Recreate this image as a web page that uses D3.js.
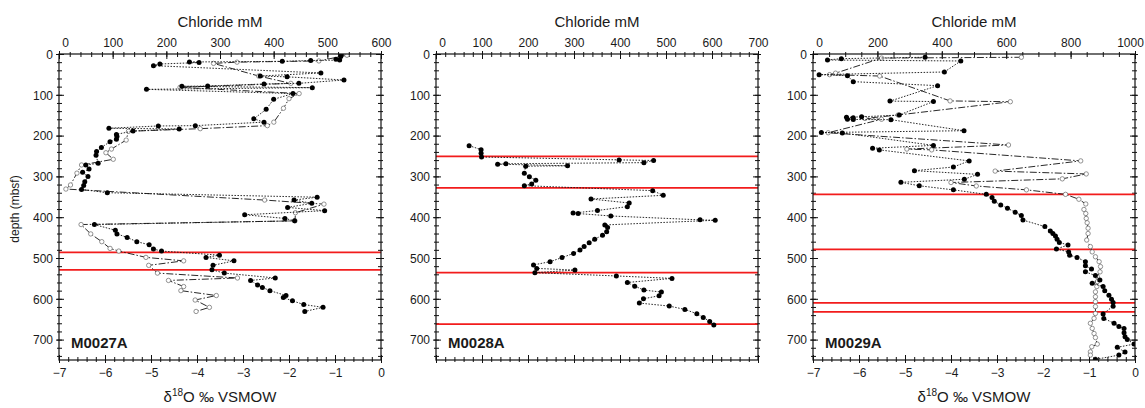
<!DOCTYPE html>
<html><head><meta charset="utf-8">
<script src="https://cdn.jsdelivr.net/npm/d3@7"></script>
<style>body{margin:0;background:#fff} text{font-family:"Liberation Sans",Arial,sans-serif;fill:#1a1a1a}</style>
</head><body><svg id="c" width="1145" height="408"></svg>
<script>
// ---------- data ----------
const depthTicks = [0,100,200,300,400,500,600,700];
const o18Ticks = [-7,-6,-5,-4,-3,-2,-1,0];
const clTicks27 = [0,100,200,300,400,500,600];
const clTicks28 = [0,100,200,300,400,500,600,700];
const clTicks29 = [0,200,400,600,800,1000];
const panelNames = ["M0027A","M0028A","M0029A"];

// M0027A chloride [depth mbsf, Cl mM]
const m27Cl = [[2,526],[6,525],[13,516],[15,523],[16,469],[18,416],[19.6,243],[21,261],[24.5,188],[28.5,176],
 [46.5,488],[54,375],[56,425],[63.7,531],[71.9,447],[73.5,382],[78.4,277],[79.2,229],[82.5,472],[86.6,163],
 [97,436],[111,400],[135.6,386],[159,363],[167,382],[175.6,254],[176.4,185],[182,93],[183.8,224],[188.7,138],
 [197,107],[202,108],[209,107],[215,95],[229,79],[239,70],[248,69],[268,73],[272,50],[282,56],[290,44],[300,54],
 [313,48],[322,46],[332,42],[340,90],[351,481],[358,438],[366,471],[376,426],[384,495],[394,346],[403,421],[409,439],
 [418,66],[432,105],[441,108],[449.5,127],[460,145],[467.5,168],[478,176],[483,191],[493,299],[498.5,274],[507,326],
 [518,287],[529,285],[537,308],[549,403],[555,357],[566,370],[572,379],[580,393],[592,423],[597,418],[605,435],
 [614,456],[621,492],[631,458]];
// M0027A d18O [depth, permil]
const m27O = [[3,-0.74],[17,-1.35],[20,-3.13],[23,-3.64],[54,-2.66],[72,-1.96],[81.7,-4.37],[97,-1.78],[109.5,-2.0],
 [133,-2.12],[167,-2.33],[175.6,-2.47],[183,-3.93],[189.5,-5.49],[211,-5.54],[233,-5.86],[242,-5.98],[258,-5.82],
 [272,-6.51],[292,-6.61],[321,-6.75],[331,-6.85],[358,-2.53],[368,-1.24],[389,-1.86],[409,-1.87],[418,-6.52],
 [441,-6.31],[460,-6.07],[476.5,-5.89],[483,-5.70],[498.5,-5.11],[507,-4.29],[518,-5.05],[537,-4.86],[549,-3.12],
 [555,-4.62],[570,-4.29],[580,-4.35],[592,-3.58],[603,-4.04],[621,-3.73],[631,-4.02]];
// M0028A chloride
const m28Cl = [[224.6,72],[234.4,98],[243.4,98],[252.4,99],[259.5,398],[261,473],[266.3,452],[269,152],[270,134],
 [274,286],[275,195],[292.4,192],[300.6,203],[309.6,217],[318.6,208],[322.7,192],[334.9,471],[346.4,494],[355.4,337],
 [365.2,420],[374.1,416],[383.5,351],[390,298],[391,309],[397,380],[406.5,574],[407.5,607],[419,367],[425,373],
 [435.6,371],[444,362],[454,345],[462.6,333],[472,322],[480.6,313],[488.7,299],[499,274],[509,248],[517,212],
 [525.5,219],[529.6,302],[536,215],[544,392],[550,513],[560,416],[569,432],[578.6,452],[583.5,490],[592.5,485],
 [600,451],[610.5,442],[617.8,507],[626,541],[636.6,567],[645.6,581],[655.4,595],[664.4,604]];
// M0029A chloride
const m29Cl = [[8,348],[11.4,88],[14.7,45],[17.1,459],[44.1,408],[50.6,19],[53.1,107],[67.8,125],[77.6,387],
 [115.5,239],[116.5,374],[149.5,268],[154,151],[155,104],[156,125],[160,107],[160.5,125],[161,242],[188,469],
 [192.5,26],[193.5,91],[224,374],[231,185],[235,206],[262,485],[277,436],[286,315],[295,511],[307,470],[314.5,273],
 [323,330],[333,436],[344,538],[352,556],[361,563],[370,583],[378,604],[388,628],[396,647],[407,652],[423,720],
 [434,737],[440,745],[446,753],[454,758],[462,765],[468,792],[478,756],[485,794],[493,797],[498.5,820],[509,846],
 [519,846],[527,865],[534,846],[543,877],[554,891],[562,867],[570,901],[580,906],[591,919],[601,927],[609,932],
 [618,932],[637,901],[648,903],[660,935],[668,950],[672.5,966],[683,966],[693,969],[699.5,976],[711,997],[719,945],
 [730.5,969],[738,950],[748.5,877]];
// M0029A d18O
const m29O = [[8,-2.47],[10,-5.51],[47,-6.51],[50.6,-6.64],[54,-5.55],[115,-4.02],[117,-2.71],[149.5,-5.15],
 [158,-5.87],[160,-5.51],[193,-6.67],[223,-2.75],[233,-4.96],[235,-4.42],[262,-1.18],[287,-3.04],[294,-1.06],
 [306,-1.58],[315,-4.0],[323.5,-3.45],[333,-2.36],[344,-1.51],[356,-1.22],[367.6,-1.07],[381,-1.11],[391,-1.07],
 [403,-1.06],[413.6,-1.04],[427,-1.02],[440,-1.02],[456,-1.05],[472,-0.97],[485,-0.93],[497,-0.86],[509,-0.78],
 [521,-0.75],[534,-0.76],[546,-0.82],[558,-0.82],[570,-0.83],[583,-0.86],[595,-0.86],[607,-0.86],[619,-0.86],
 [636,-0.86],[648,-0.89],[660,-0.97],[672.5,-0.93],[685,-0.89],[695,-0.86],[711,-0.82],[717.5,-0.94],[730,-0.97],
 [738,-0.97],[748,-0.86]];
// depths of red lines
const red27 = [486,529];
const red28 = [251,328,536,662];
const red29 = [344,479,610,632];

// ---------- layout ----------
const svg = d3.select("#c");
const topY = 54, botY = 360, W = 322;
const y = d3.scaleLinear().domain([0,750]).range([topY,botY]);

const panels = [
 {left:59, clMax:600, clTicks:clTicks27, clMinor:20, cl:m27Cl, o:m27O, red:red27, name:panelNames[0], o18:true},
 {left:436, clMax:700, clTicks:clTicks28, clMinor:20, cl:m28Cl, o:null, red:red28, name:panelNames[1], o18:false},
 {left:813, clMax:1000, clTicks:clTicks29, clMinor:50, cl:m29Cl, o:m29O, red:red29, name:panelNames[2], o18:true}
];

function range(a,b,s){const r=[];for(let v=a;v<=b+1e-9;v+=s)r.push(+v.toFixed(6));return r;}

function ticks(g, mk, vals, minorVals, orient, showLabels){
  const mg = g.append("g").call(mk().tickValues(minorVals).tickFormat(""));
  mg.select(".domain").remove();
  const ma = g.append("g").call(mk().tickValues(vals).tickFormat(showLabels? d3.format("d") : ""));
  ma.select(".domain").remove();
  const setLen = (sel, inn, out) => {
    if (orient==="top") sel.attr("y1",inn).attr("y2",-out);
    if (orient==="bottom") sel.attr("y1",-inn).attr("y2",out);
    if (orient==="left") sel.attr("x1",inn).attr("x2",-out);
    if (orient==="right") sel.attr("x1",-inn).attr("x2",out);
  };
  mg.selectAll(".tick line").call(setLen,3,2).attr("stroke","#111");
  ma.selectAll(".tick line").call(setLen,5,3).attr("stroke","#111");
  const t = ma.selectAll(".tick text").attr("font-size",12).attr("fill","#1a1a1a")
     .attr("font-family",'"Liberation Sans",Arial,sans-serif');
  if (orient==="top") {
    t.attr("y",-7).attr("dy",0);
    // first label sits a little right of its tick, a 4-digit last label a little left
    t.filter(d=>d===0).attr("x",6);
    t.filter(d=>d>=1000).attr("x",-5);
  }
  if (orient==="bottom") t.attr("y",17).attr("dy",0);
  if (orient==="left") t.attr("x",-6).attr("dy","0.35em");
}

panels.forEach(p=>{
  const xCl = d3.scaleLinear().domain([0,p.clMax]).range([p.left,p.left+W]);
  const xO = d3.scaleLinear().domain([-7,0]).range([p.left,p.left+W]);
  const g = svg.append("g");
  const cx = p.left + W/2;

  ticks(g.append("g").attr("transform",`translate(0,${topY})`), ()=>d3.axisTop(xCl), p.clTicks, range(0,p.clMax,p.clMinor), "top", true);
  if (p.o18) ticks(g.append("g").attr("transform",`translate(0,${botY})`), ()=>d3.axisBottom(xO), o18Ticks, range(-7,0,0.2), "bottom", true);
  else ticks(g.append("g").attr("transform",`translate(0,${botY})`), ()=>d3.axisBottom(xCl), p.clTicks, range(0,p.clMax,p.clMinor), "bottom", false);
  ticks(g.append("g").attr("transform",`translate(${p.left},0)`), ()=>d3.axisLeft(y), depthTicks, range(0,740,20), "left", true);
  ticks(g.append("g").attr("transform",`translate(${p.left+W},0)`), ()=>d3.axisRight(y), depthTicks, range(0,740,20), "right", false);

  const cid = "clip"+p.left;
  svg.append("clipPath").attr("id",cid).append("rect").attr("x",p.left).attr("y",topY).attr("width",W).attr("height",botY-topY);
  const plot = g.append("g").attr("clip-path",`url(#${cid})`);

  plot.selectAll("line.red").data(p.red).join("line").attr("class","red")
    .attr("x1",p.left).attr("x2",p.left+W).attr("y1",d=>y(d)).attr("y2",d=>y(d))
    .attr("stroke","#f21c1c").attr("stroke-width",1.8);

  if (p.o) {
    const lo = d3.line().x(d=>xO(d[1])).y(d=>y(d[0]));
    plot.append("path").datum(p.o).attr("d",lo).attr("fill","none").attr("stroke","#111")
      .attr("stroke-width",0.9).attr("stroke-dasharray","7,2,1.5,2");
    plot.selectAll("circle.o").data(p.o).join("circle").attr("class","o")
      .attr("cx",d=>xO(d[1])).attr("cy",d=>y(d[0])).attr("r",2.2)
      .attr("fill","#fff").attr("stroke","#666").attr("stroke-width",0.7);
  }
  const lc = d3.line().x(d=>xCl(d[1])).y(d=>y(d[0]));
  plot.append("path").datum(p.cl).attr("d",lc).attr("fill","none").attr("stroke","#111")
    .attr("stroke-width",0.9).attr("stroke-dasharray","1.5,1.5");
  plot.selectAll("circle.c").data(p.cl).join("circle").attr("class","c")
    .attr("cx",d=>xCl(d[1])).attr("cy",d=>y(d[0])).attr("r",2.5).attr("fill","#000");

  g.append("rect").attr("x",p.left).attr("y",topY).attr("width",W).attr("height",botY-topY)
    .attr("fill","none").attr("stroke","#111").attr("stroke-width",1.2);

  g.append("text").attr("x",cx).attr("y",27).attr("text-anchor","middle").attr("font-size",15).text("Chloride mM");
  if (p.o18) {
    const t = g.append("text").attr("x",cx).attr("y",402).attr("text-anchor","middle").attr("font-size",15);
    t.append("tspan").text("δ");
    t.append("tspan").attr("font-size",10).attr("dy",-6).text("18");
    t.append("tspan").attr("dy",6).text("O ‰ VSMOW");
  }
  g.append("text").attr("x",p.left+12).attr("y",348).attr("font-size",15).attr("font-weight","bold").text(p.name);
});

svg.append("text").attr("transform","translate(19,209) rotate(-90)").attr("text-anchor","middle")
  .attr("font-size",12).text("depth (mbsf)");
</script></body></html>
